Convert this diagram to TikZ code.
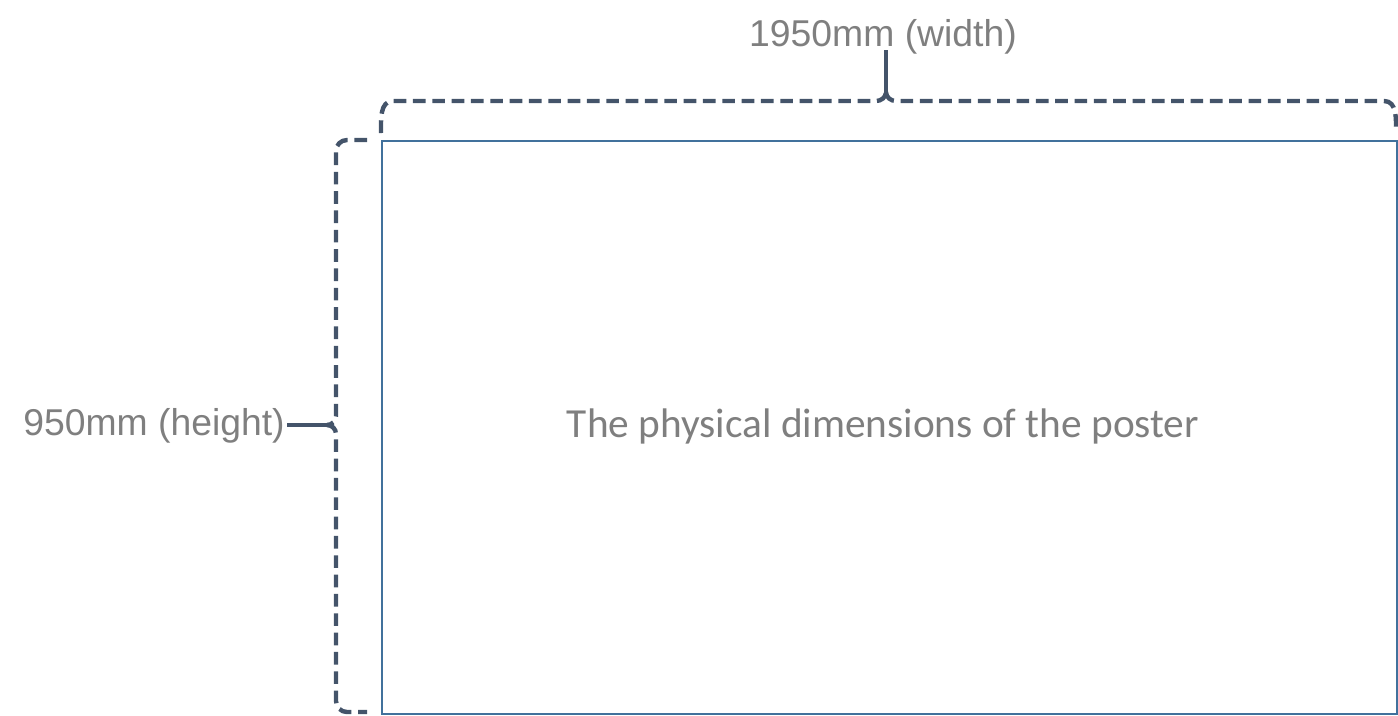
\documentclass[tikz,border=0pt]{standalone}
\usepackage{fontspec}
\newfontfamily\arialf{Liberation Sans}
\newfontfamily\calib{Carlito}
\definecolor{bracecol}{HTML}{44546A}
\definecolor{boxcol}{HTML}{41719C}
\definecolor{txtgray}{HTML}{7F7F7F}
\begin{document}
\begin{tikzpicture}[x=0.75pt,y=-0.75pt,
  brace/.style={draw=bracecol,line width=3.3pt,dash pattern=on 9.5pt off 5pt,line cap=butt},
  stem/.style={draw=bracecol,line width=3.3pt},
  lbl/.style={text=txtgray,font=\arialf\fontsize{28pt}{30pt}\selectfont,inner sep=0pt}]
\useasboundingbox (0,0) rectangle (1398,715);
\node[draw=boxcol,line width=1.5pt,minimum width=1015*0.75pt,minimum height=573*0.75pt,inner sep=0pt,anchor=north west] (poster) at (380.5,139.5) {};
\node[text=txtgray,font=\calib\fontsize{31pt}{34pt}\selectfont,inner sep=0pt] (ptext) at (883,426) {The physical dimensions of the poster};
\node[lbl] (wlbl) at (883,37) {1950mm (width)};
\node[lbl,anchor=east] (hlbl) at (285,426) {950mm (height)};
% top brace
\coordinate (tl) at (381,133);
\coordinate (tr) at (1396,133);
\coordinate (tt) at (886,50);
\draw[brace] (tl) to[out=90,in=180] (393,101) -- (876,101) to[out=0,in=-90] (886,92);
\draw[brace] (886,92) to[out=-90,in=180] (896,101) -- (1384,101) to[out=0,in=90] (tr);
\draw[stem] (886,93) -- (tt);
% left brace
\coordinate (lt) at (367,140);
\coordinate (lb) at (367,712);
\coordinate (lm) at (287,425);
\draw[brace] (lt) -- (347,140) to[out=180,in=90] (336,151) -- (336,416) to[out=-90,in=0] (327,425);
\draw[brace] (327,425) to[out=0,in=90] (336,434) -- (336,701) to[out=-90,in=180] (347,712) -- (lb);
\draw[stem] (328,425) -- (lm);
\end{tikzpicture}
\end{document}
